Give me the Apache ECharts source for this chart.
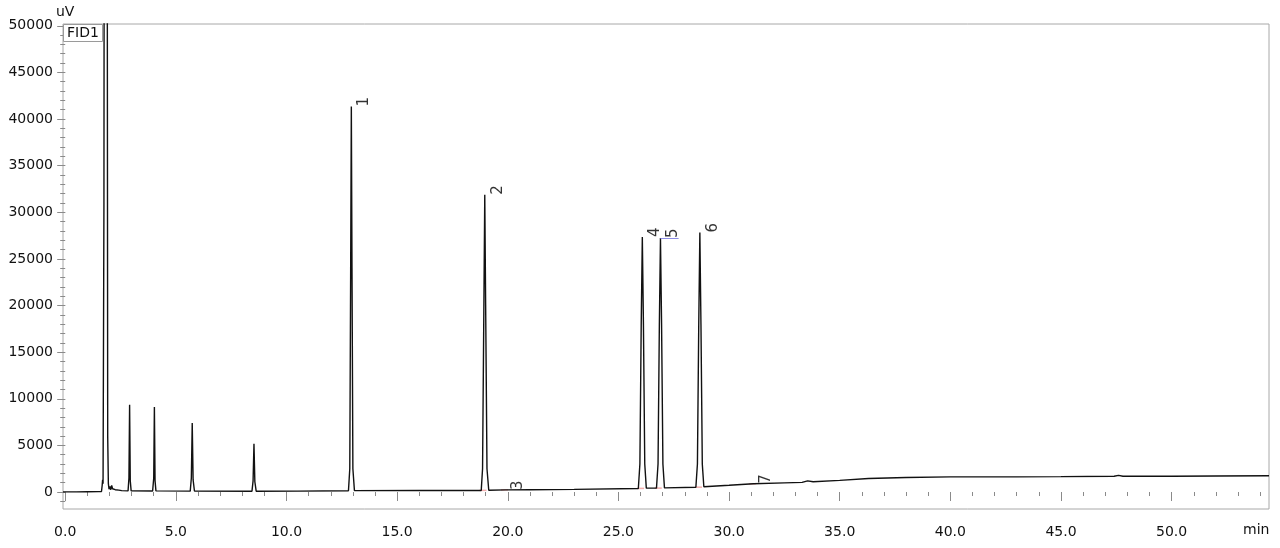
<!DOCTYPE html>
<html>
<head>
<meta charset="utf-8">
<script src="https://cdn.jsdelivr.net/npm/echarts@6/dist/echarts.min.js"></script>
<style>
html,body{margin:0;padding:0;background:#fff;}
#chart{width:1280px;height:548px;}
</style>
</head>
<body>
<div id="chart"></div>
<script>
// ---- data ----
const traceTime = [
  -0.1, 0.5, 1.0, 1.5, 1.64, 1.67, 1.69, 1.71, 1.73, 1.75, 1.76, 1.90, 1.92, 1.95, 1.98,
  2.02, 2.06, 2.10, 2.14, 2.20, 2.26, 2.34, 2.42, 2.55,
  2.84, 2.88, 2.91, 2.94, 2.98,
  3.95, 4.00, 4.03, 4.06, 4.10,
  5.65, 5.70, 5.74, 5.78, 5.84,
  8.44, 8.49, 8.53, 8.57, 8.63,
  10.5,
  12.80, 12.86, 12.90, 12.93, 12.96, 13.00, 13.07,
  16.0,
  18.80, 18.86, 18.92, 18.96, 19.00, 19.06, 19.14,
  19.9, 21.0, 23.0,
  25.90, 25.97, 26.03, 26.08, 26.13, 26.19, 26.26,
  26.72, 26.79, 26.85, 26.90, 26.95, 27.01, 27.08,
  28.50, 28.57, 28.63, 28.68, 28.73, 28.79, 28.86,
  30.0, 31.1, 32.5, 33.3, 33.55, 33.8, 35.0, 36.3, 38.0, 40.0,
  43.0, 45.0, 47.4, 47.6, 47.8, 50.0, 52.0, 54.4
];
const traceSignal = [
  20, 20, 30, 40, 60, 700, 1300, 900, 1100, 31000, 60000, 60000, 6000, 900, 300,
  600, 250, 700, 350, 450, 250, 350, 200, 150,
  120, 1500, 9360, 1200, 130,
  110, 1500, 9110, 1200, 120,
  100, 1500, 7400, 1300, 110,
  90, 1200, 5180, 1100, 90,
  100,
  130, 2500, 24000, 41340, 24000, 2500, 150,
  160,
  170, 2500, 20000, 31870, 20000, 2500, 190,
  230, 250, 280,
  380, 3000, 18000, 27340, 18000, 3000, 420,
  420, 3000, 18000, 27230, 18000, 3000, 450,
  520, 3000, 18000, 27830, 18000, 3000, 560,
  720, 880, 980, 1040, 1200, 1100, 1250, 1450, 1550, 1620,
  1620, 1650, 1690, 1780, 1690, 1700, 1720, 1750
];

const peakNames   = ['1', '2', '3', '4', '5', '6', '7'];
const peakTimes   = [12.93, 18.96, 19.88, 26.08, 26.90, 28.68, 31.10];
const peakHeights = [41340, 31870, 230, 27340, 27230, 27830, 880];

// integration baseline marks (small pink ticks)
const markTimes   = [18.88, 19.85, 26.00, 26.80, 28.62, 31.05];
const markSignals = [180, 230, 390, 420, 520, 880];

// peak-5 reference line (blue)
const refLineStart = [26.90, 27230];
const refLineEnd   = [27.72, 27230];

const xMajorTicks = [0, 5, 10, 15, 20, 25, 30, 35, 40, 45, 50];
const xMinorTicks = [];
for (let i = 0; i <= 54; i++) xMinorTicks.push(i);
const yMajorTicks = [0, 5000, 10000, 15000, 20000, 25000, 30000, 35000, 40000, 45000, 50000];
const yMinorTicks = [];
for (let v = -1000; v <= 50000; v += 1000) yMinorTicks.push(v);

const xMin = -0.1, xMax = 54.4;
const yMin = -1820, yMax = 50190;

// ---- build ----
const FONT = 'DejaVu Sans';
const TXT = '#111111';
const TICK = '#8a8a8a';

const traceData = traceTime.map((t, i) => [t, traceSignal[i]]);
const peakData = peakNames.map((n, i) => ({ name: n, value: [peakTimes[i], peakHeights[i]] }));
const markData = markTimes.map((t, i) => [t, markSignals[i]]);

const chart = echarts.init(document.getElementById('chart'), null, { renderer: 'canvas' });
chart.setOption({
  animation: false,
  backgroundColor: '#ffffff',
  title: {
    text: 'FID1',
    left: 63, top: 24,
    padding: [2, 4, 1, 4],
    borderColor: '#9a9a9a', borderWidth: 1,
    backgroundColor: '#ffffff',
    textStyle: { fontFamily: FONT, fontSize: 14, fontWeight: 'normal', color: TXT, lineHeight: 15 },
    z: 10
  },
  grid: {
    left: 63, right: 11, top: 24, bottom: 39,
    show: true, borderColor: '#a8a8a8', borderWidth: 1,
    containLabel: false, outerBoundsMode: 'none'
  },
  xAxis: [
    {
      type: 'value', min: xMin, max: xMax, position: 'bottom', offset: 3,
      axisLine: { show: false },
      splitLine: { show: false },
      axisTick: { show: true, customValues: xMinorTicks, length: 4, lineStyle: { color: TICK, width: 1 } },
      axisLabel: {
        show: true, customValues: xMajorTicks, margin: 13,
        formatter: v => Number(v).toFixed(1),
        fontFamily: FONT, fontSize: 14, color: TXT
      }
    },
    {
      type: 'value', min: xMin, max: xMax, position: 'bottom', offset: 3,
      axisLine: { show: false },
      splitLine: { show: false },
      axisTick: { show: true, customValues: xMajorTicks, length: 9, lineStyle: { color: TICK, width: 1 } },
      axisLabel: { show: false }
    }
  ],
  yAxis: [
    {
      type: 'value', min: yMin, max: yMax, position: 'left',
      name: 'uV', nameLocation: 'end', nameGap: 3,
      nameTextStyle: { fontFamily: FONT, fontSize: 14, color: TXT },
      axisLine: { show: false },
      splitLine: { show: false },
      axisTick: { show: true, customValues: yMinorTicks, length: 5, lineStyle: { color: TICK, width: 1 } },
      axisLabel: {
        show: true, customValues: yMajorTicks, margin: 10,
        formatter: v => String(Math.round(v)),
        fontFamily: FONT, fontSize: 14, color: TXT
      }
    },
    {
      type: 'value', min: yMin, max: yMax, position: 'left',
      axisLine: { show: false },
      splitLine: { show: false },
      axisTick: { show: true, customValues: yMajorTicks, length: 8, lineStyle: { color: TICK, width: 1 } },
      axisLabel: { show: false }
    }
  ],
  graphic: [
    {
      type: 'text', left: 1243, top: 523,
      style: { text: 'min', font: '14px "DejaVu Sans"', fill: TXT }
    }
  ],
  series: [
    {
      name: 'marks', type: 'scatter', xAxisIndex: 0, yAxisIndex: 0,
      symbol: 'rect', symbolSize: [7, 1.5],
      itemStyle: { color: '#f09a9a' },
      data: markData, silent: true, z: 1
    },
    {
      name: 'FID1', type: 'line', xAxisIndex: 0, yAxisIndex: 0,
      data: traceData, showSymbol: false, symbol: 'none', smooth: false,
      clip: true,
      lineStyle: { color: '#111111', width: 1.4 },
      markLine: {
        silent: true, symbol: ['none', 'none'],
        label: { show: false },
        lineStyle: { color: '#8c8ce6', width: 1, type: 'solid' },
        data: [[{ coord: refLineStart }, { coord: refLineEnd }]]
      },
      z: 2
    },
    {
      name: 'peaks', type: 'scatter', xAxisIndex: 0, yAxisIndex: 0,
      symbolSize: 0, data: peakData, silent: true,
      label: {
        show: true, formatter: '{b}', position: 'right', distance: 13, rotate: 90,
        fontFamily: FONT, fontSize: 15, color: '#000000'
      },
      z: 3
    }
  ]
});
</script>
</body>
</html>
